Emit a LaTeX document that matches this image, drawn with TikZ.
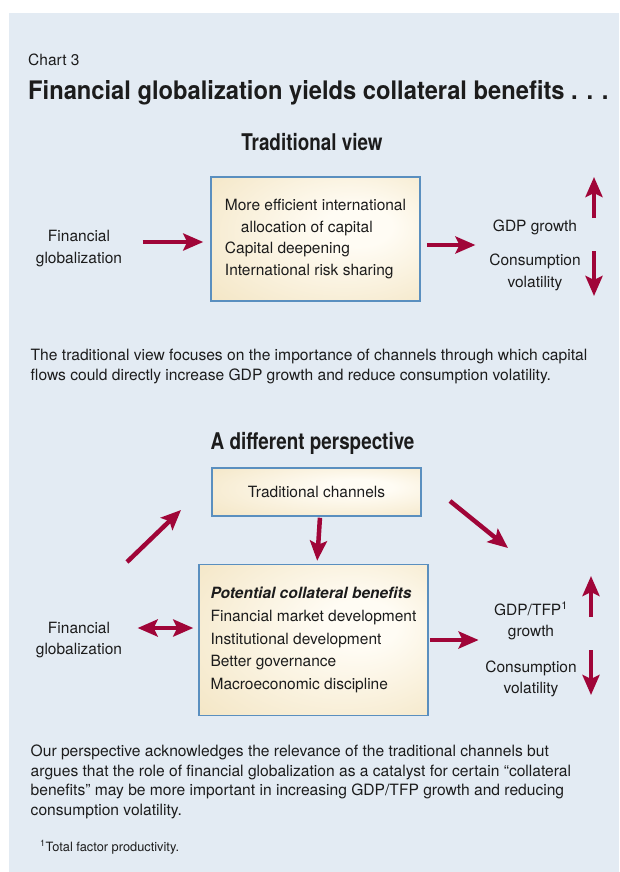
\documentclass[tikz,border=0pt]{standalone}
\usepackage{fontspec}
\setmainfont{TeX Gyre Heros}
\newfontfamily\condfont{TeX Gyre Heros}[FakeStretch=0.82]
\newfontfamily\titlefont{TeX Gyre Heros}[FakeStretch=0.93]
\usetikzlibrary{arrows.meta}

\definecolor{panelblue}{HTML}{E3EBF3}
\definecolor{arrowred}{HTML}{A00538}
\definecolor{boxedge}{HTML}{5A8FBF}
\definecolor{boxtan}{HTML}{EEDBAE}
\definecolor{boxlight}{HTML}{FFFCF4}
\definecolor{inkblack}{HTML}{1C1C1C}

\pgfdeclareradialshading{boxglow}{\pgfpoint{12bp}{6bp}}{color(0bp)=(boxlight); color(8bp)=(boxlight); color(55bp)=(boxtan)}

\begin{document}
\begin{tikzpicture}[x=1pt, y=-1pt, color=inkblack, font=\fontsize{15.5}{21.5}\selectfont,
    box/.style={draw=boxedge, line width=1.5pt, shade, shading=boxglow, align=left, inner sep=0pt},
    bigarrow/.style={draw=arrowred, line width=4.5pt, -{Stealth[length=20pt, width=17pt, inset=4pt]}},
    twoway/.style={bigarrow, {Stealth[length=20pt, width=17pt, inset=4pt]}-{Stealth[length=20pt, width=17pt, inset=4pt]}},
    heading/.style={font=\condfont\bfseries\fontsize{23}{27}\selectfont},
    side/.style={align=center},
    note/.style={anchor=north west, align=left, inner sep=0pt, font=\fontsize{15.6}{19.4}\selectfont}]
    \useasboundingbox (0,0) rectangle (619,872);
    % draw panel
    \fill[panelblue] (9,13) rectangle (619,872);

    % draw chart number and title
    \node[anchor=base west, inner sep=0pt] (chartno) at (28,66) {Chart 3};
    \node[anchor=base west, inner sep=0pt, font=\titlefont\bfseries\fontsize{25.5}{30}\selectfont] (title) at (28,100)
        {Financial globalization yields collateral benefits . . .};

    % draw traditional view
    \node[heading, anchor=base] (tradview) at (312,150) {Traditional view};
    \node[box, minimum width=209pt, minimum height=124pt] (box1) at (315.5,239)
        {More efficient international\\\hspace*{16pt}allocation of capital\\Capital deepening\\International risk sharing};
    \node[side] (fingl1) at (79,248.5) {Financial\\globalization};
    \node[anchor=base] (gdp1) at (535,231) {GDP growth};
    \node[side] (cons1) at (535,272.5) {Consumption\\volatility};
    \draw[bigarrow, shorten <=17pt, shorten >=7pt] ([yshift=-3pt]fingl1.east |- box1.west) -- ([yshift=-3pt]box1.west);
    \draw[bigarrow, shorten <=6pt, shorten >=14pt] ([yshift=-6pt]box1.east) -- ([yshift=-6pt]box1.east -| gdp1.west);
    \coordinate (up1) at (594,218);
    \coordinate (down1) at (594,251);
    \draw[bigarrow] (up1) -- (594,177);
    \draw[bigarrow] (down1) -- (594,296);

    \node[note] (note1) at (30.5,349)
        {The traditional view focuses on the importance of channels through which capital\\
         flows could directly increase GDP growth and reduce consumption volatility.};

    % draw different perspective
    \node[heading, anchor=base] (diffview) at (312.6,449) {A different perspective};
    \node[box, align=center, minimum width=209pt, minimum height=48pt] (chan) at (316.5,492) {Traditional channels};
    \node[box, minimum width=229pt, minimum height=151pt, font=\fontsize{15.5}{22.7}\selectfont] (box2) at (313.5,640)
        {\textbf{\textit{Potential collateral benefits}}\\Financial market development\\Institutional development\\Better governance\\Macroeconomic discipline};
    \node[side] (fingl2) at (79,640) {Financial\\globalization};
    \node[side] (gdp2) at (531,621) {GDP/TFP\textsuperscript{1}\\growth};
    \node[side] (cons2) at (531,679) {Consumption\\volatility};
    \coordinate (diagl) at (127,562);
    \coordinate (diagr) at (450,501);
    \draw[bigarrow] (diagl) -- (181,510);
    \draw[bigarrow] (diagr) -- (508,548);
    \draw[bigarrow, shorten <=1pt, shorten >=3pt] ([xshift=3.5pt]chan.south) -- ([xshift=3.5pt]box2.north);
    \draw[twoway, shorten <=12pt, shorten >=5pt] ([yshift=12pt]fingl2.east |- box2.west) -- ([yshift=12pt]box2.west);
    \draw[bigarrow, shorten <=1pt, shorten >=12pt] (box2.east) -- (box2.east -| gdp2.west);
    \coordinate (up2) at (591,617);
    \coordinate (down2) at (591,650);
    \draw[bigarrow] (up2) -- (591,576);
    \draw[bigarrow] (down2) -- (591,695);

    \node[note] (note2) at (30.5,745)
        {Our perspective acknowledges the relevance of the traditional channels but\\
         argues that the role of financial globalization as a catalyst for certain “collateral\\
         benefits” may be more important in increasing GDP/TFP growth and reducing\\
         consumption volatility.};
    \node[anchor=base west, inner sep=0pt, font=\fontsize{12.8}{15}\selectfont] (foot) at (40,851) {\textsuperscript{1}Total factor productivity.};
\end{tikzpicture}
\end{document}
